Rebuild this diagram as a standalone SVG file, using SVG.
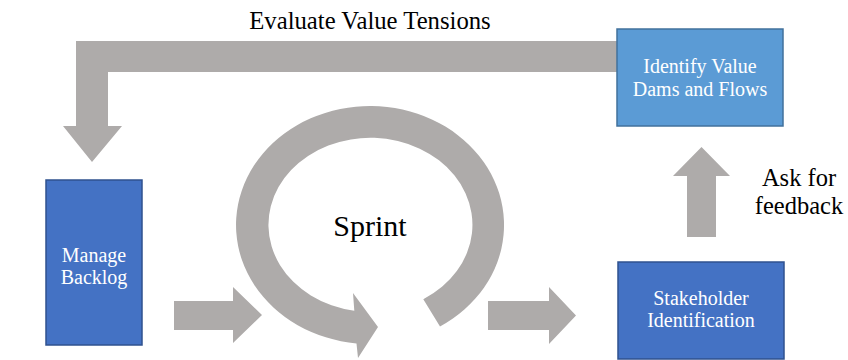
<svg xmlns="http://www.w3.org/2000/svg" width="848" height="360" viewBox="0 0 848 360">
  <style>
    .arrow { fill: #AEABAA; }
    .box-light { fill: #5B9BD5; stroke: #41719C; stroke-width: 1.5; }
    .box-dark { fill: #4472C4; stroke: #2F528F; stroke-width: 1.5; }
    text { font-family: 'Liberation Serif', 'Times New Roman', Times, serif; text-anchor: middle; }
    .in-box { fill: #FFFFFF; font-size: 20px; }
    .outside { fill: #000000; }
  </style>
  <rect width="848" height="360" fill="#FFFFFF"/>

  <!-- Block arrows connecting the process steps -->
  <g id="connectors">
    <!-- Feedback loop: from "Identify Value Dams and Flows" back down to "Manage Backlog" -->
    <path id="evaluate-loop" class="arrow" d="M617 41 L617 72 L108 72 L108 126 L122 126 L92 162 L63 126 L76 126 L76 41 Z"/>
    <!-- Manage Backlog into the sprint -->
    <path id="to-sprint" class="arrow" d="M174 301 L233 301 L233 287 L262 315 L233 343 L233 330 L174 330 Z"/>
    <!-- Sprint out to stakeholder identification -->
    <path id="to-stakeholders" class="arrow" d="M488 301 L549 301 L549 287 L576 315.5 L549 344 L549 330 L488 330 Z"/>
    <!-- Ask for feedback: stakeholders up to value dams and flows -->
    <path id="ask-feedback" class="arrow" d="M687 237 L687 176 L673 176 L701.5 147 L730 176 L716 176 L716 237 Z"/>
    <!-- Sprint cycle: elliptical ring ending in an arrowhead at the bottom -->
    <path id="sprint-cycle" class="arrow" d="M423.3 299.2 L440 326.5 A134 119 0 1 0 356.5 343.4 L358 358 L378 327 L353 293 L354.3 310.7 A102 87 0 1 1 423.3 299.2 Z"/>
  </g>

  <text class="outside" x="370" y="29" font-size="24.7" font-family="Liberation Serif, serif">Evaluate Value Tensions</text>

  <g id="identify-value">
    <rect class="box-light" x="617" y="29" width="166" height="97"/>
    <text class="in-box" x="700" y="73" font-family="Liberation Serif, serif">Identify Value</text>
    <text class="in-box" x="700" y="96" font-family="Liberation Serif, serif">Dams and Flows</text>
  </g>

  <g id="manage-backlog">
    <rect class="box-dark" x="46" y="180" width="96" height="165"/>
    <text class="in-box" x="94" y="262" font-family="Liberation Serif, serif">Manage</text>
    <text class="in-box" x="94" y="284" font-family="Liberation Serif, serif">Backlog</text>
  </g>

  <g id="sprint">
    <text class="outside" x="370" y="236" font-size="30" font-family="Liberation Serif, serif">Sprint</text>
  </g>

  <g id="stakeholder-identification">
    <rect class="box-dark" x="618" y="262" width="166" height="97"/>
    <text class="in-box" x="701" y="305" font-family="Liberation Serif, serif">Stakeholder</text>
    <text class="in-box" x="701" y="327" font-family="Liberation Serif, serif">Identification</text>
  </g>

  <g id="ask-for-feedback-label">
    <text class="outside" x="799" y="186" font-size="24.5" font-family="Liberation Serif, serif">Ask for</text>
    <text class="outside" x="799" y="214" font-size="24.5" font-family="Liberation Serif, serif">feedback</text>
  </g>
</svg>
